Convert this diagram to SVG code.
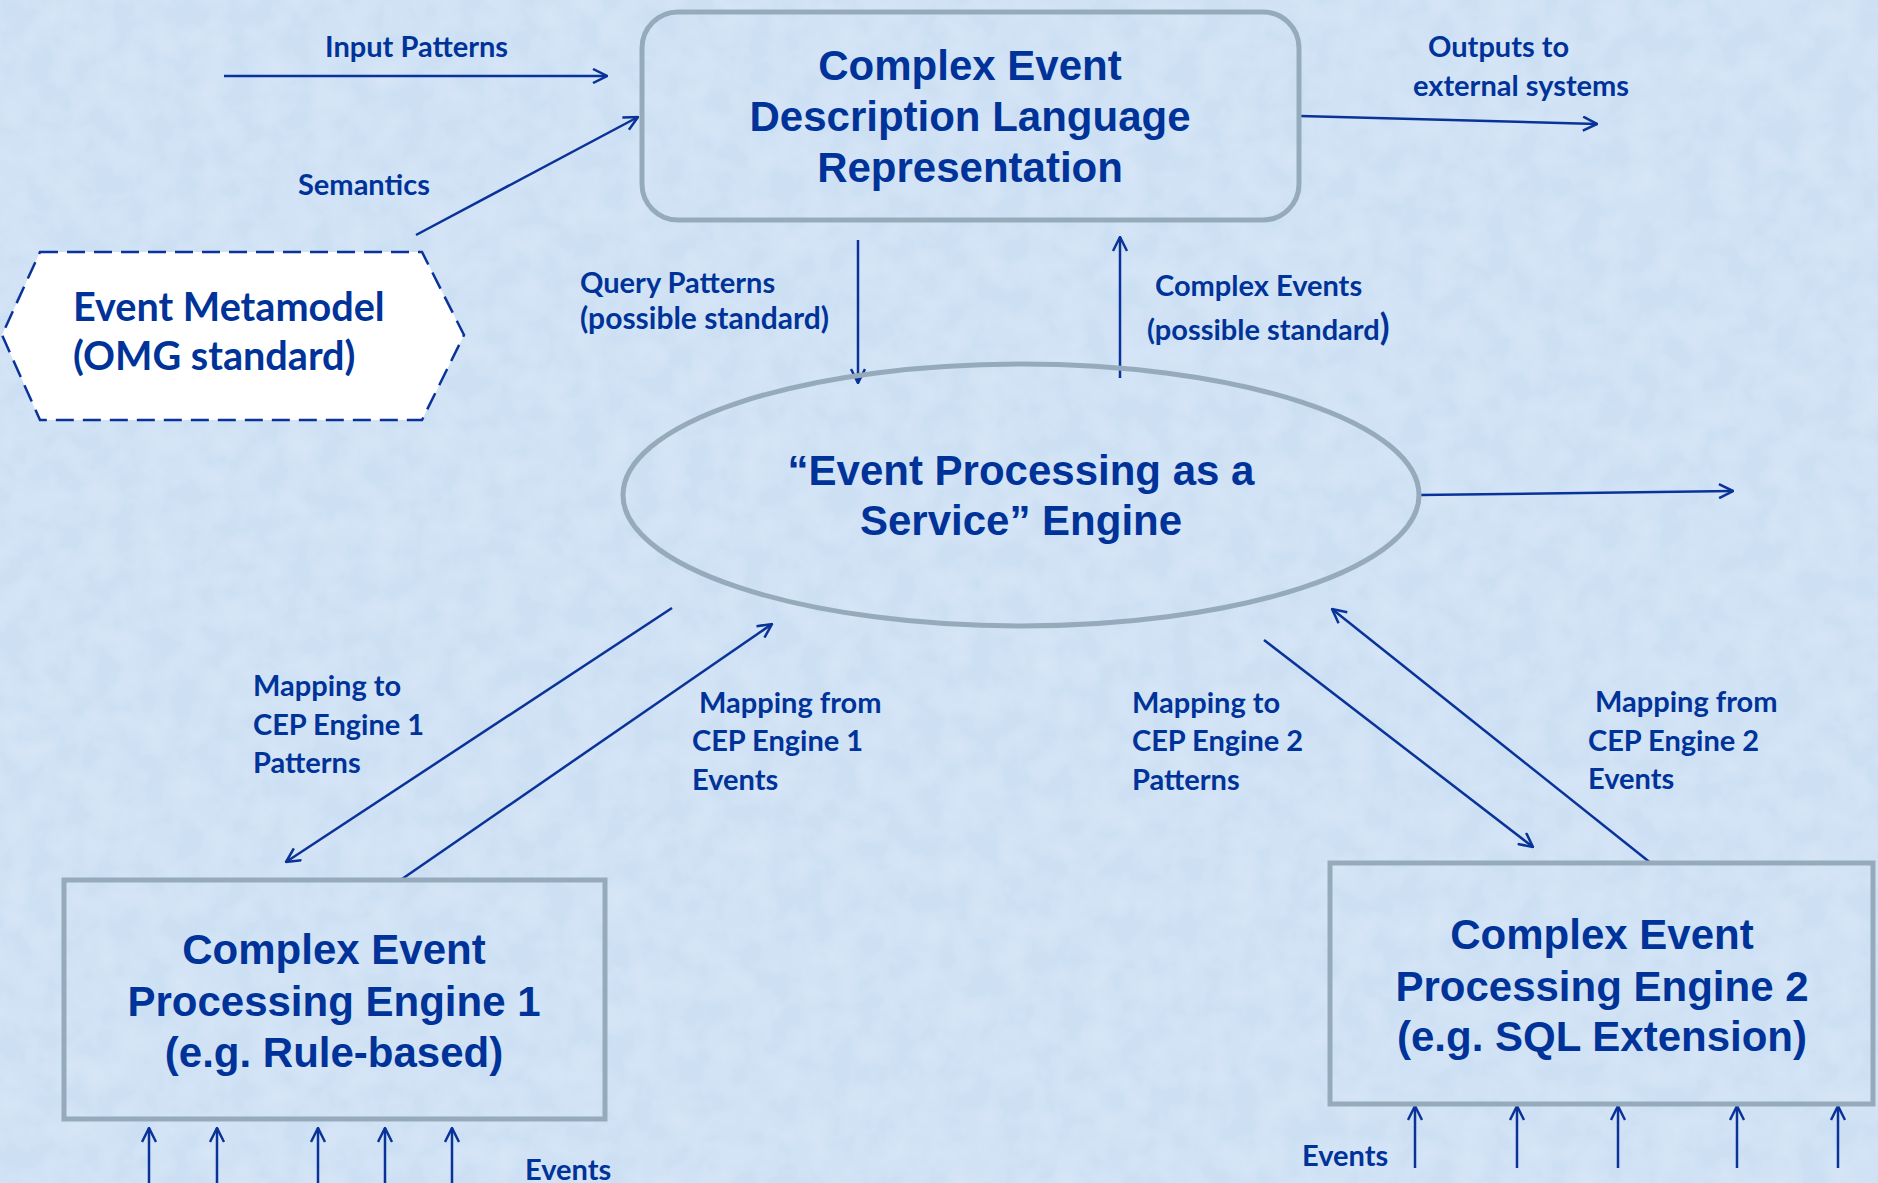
<svg xmlns="http://www.w3.org/2000/svg" width="1878" height="1183" viewBox="0 0 1878 1183">
<defs>
<filter id="tex" x="0" y="0" width="100%" height="100%">
<feTurbulence type="fractalNoise" baseFrequency="0.035" numOctaves="3" seed="4" result="n"/>
<feColorMatrix in="n" type="matrix" values="0 0 0 0 0.72  0 0 0 0 0.82  0 0 0 0 0.95  0 0 0 1.1 -0.35" result="c"/>
<feComposite in="c" in2="SourceGraphic" operator="over"/>
</filter>
<marker id="ah" viewBox="0 0 16 16" refX="15" refY="8" markerWidth="16" markerHeight="16" markerUnits="userSpaceOnUse" orient="auto">
<path d="M1,1 L15,8 L1,15" fill="none" stroke="#0a3399" stroke-width="2.5"/>
</marker>
</defs>
<style>
.bg{fill:#cde0f3}
.conn line{stroke:#0a3399;stroke-width:2.5;fill:none;marker-end:url(#ah)}
.box{fill:none;stroke:#95abbb;stroke-width:5}
.big{font-family:"Liberation Sans",Arial,sans-serif;font-weight:bold;font-size:42px;fill:#003399;text-anchor:middle}
.lbl{font-family:Lato,"Noto Sans",sans-serif;font-weight:bold;font-size:29px;fill:#003399}
.hex{font-family:Lato,"Noto Sans",sans-serif;font-weight:bold;font-size:39.6px;fill:#003399}
</style>
<rect class="bg" x="0" y="0" width="1878" height="1183" filter="url(#tex)"/>

<g id="connectors" class="conn">
<line x1="224" y1="76" x2="607" y2="76"/>
<line x1="416" y1="235" x2="638" y2="117"/>
<line x1="1300" y1="116" x2="1597" y2="124"/>
<line x1="858" y1="240" x2="858" y2="383"/>
<line x1="1120" y1="378" x2="1120" y2="237"/>
<line x1="1419" y1="495" x2="1733" y2="491"/>
<line x1="672" y1="608" x2="286" y2="862"/>
<line x1="402" y1="879" x2="772" y2="624"/>
<line x1="1264" y1="640" x2="1533" y2="847"/>
<line x1="1652" y1="864" x2="1332" y2="609"/>
<line x1="149" y1="1183" x2="149" y2="1128"/>
<line x1="217" y1="1183" x2="217" y2="1128"/>
<line x1="318" y1="1183" x2="318" y2="1128"/>
<line x1="385" y1="1183" x2="385" y2="1128"/>
<line x1="452" y1="1183" x2="452" y2="1128"/>
<line x1="1415" y1="1168" x2="1415" y2="1106"/>
<line x1="1517" y1="1168" x2="1517" y2="1106"/>
<line x1="1618" y1="1168" x2="1618" y2="1106"/>
<line x1="1737" y1="1168" x2="1737" y2="1106"/>
<line x1="1838" y1="1168" x2="1838" y2="1106"/>
</g>

<g id="labels">
<text class="lbl" x="325" y="57">Input Patterns</text>
<text class="lbl" x="298" y="195">Semantics</text>
<text class="lbl" x="1428" y="57">Outputs to</text>
<text class="lbl" x="1413" y="96">external systems</text>
<text class="lbl" x="580" y="293">Query Patterns</text>
<text class="lbl" x="580" y="329" style="font-size:30px">(possible standard)</text>
<text class="lbl" x="1155" y="296">Complex Events</text>
<text class="lbl" x="1147" y="340">(possible standard<tspan style="font-size:36px">)</tspan></text>
<text class="lbl" x="253" y="696">Mapping to</text>
<text class="lbl" x="253" y="735">CEP Engine 1</text>
<text class="lbl" x="253" y="773">Patterns</text>
<text class="lbl" x="699" y="713">Mapping from</text>
<text class="lbl" x="692" y="751">CEP Engine 1</text>
<text class="lbl" x="692" y="790">Events</text>
<text class="lbl" x="1132" y="713">Mapping to</text>
<text class="lbl" x="1132" y="751">CEP Engine 2</text>
<text class="lbl" x="1132" y="790">Patterns</text>
<text class="lbl" x="1595" y="712">Mapping from</text>
<text class="lbl" x="1588" y="751">CEP Engine 2</text>
<text class="lbl" x="1588" y="789">Events</text>
<text class="lbl" x="525" y="1180">Events</text>
<text class="lbl" x="1302" y="1166">Events</text>
</g>

<g id="cedl">
<rect class="box" x="642" y="12" width="657" height="208" rx="36" ry="36"/>
<text class="big" x="970" y="80">Complex Event</text>
<text class="big" x="970" y="131">Description Language</text>
<text class="big" x="970" y="182">Representation</text>
</g>

<g id="metamodel">
<polygon points="40,252 422,252 464,335 422,420 40,420 2,335" fill="#ffffff" stroke="#0a3399" stroke-width="2.5" stroke-dasharray="18,9"/>
<text class="hex" x="73" y="321">Event Metamodel</text>
<text class="hex" x="73" y="370">(OMG standard)</text>
</g>

<g id="epas">
<ellipse class="box" cx="1021" cy="495" rx="398" ry="131"/>
<text class="big" x="1021" y="485">“Event Processing as a</text>
<text class="big" x="1021" y="535">Service” Engine</text>
</g>

<g id="engine1">
<rect class="box" x="64" y="880" width="541" height="239"/>
<text class="big" x="334" y="964">Complex Event</text>
<text class="big" x="334" y="1016">Processing Engine 1</text>
<text class="big" x="334" y="1067">(e.g. Rule-based)</text>
</g>

<g id="engine2">
<rect class="box" x="1330" y="863" width="543" height="241"/>
<text class="big" x="1602" y="949">Complex Event</text>
<text class="big" x="1602" y="1001">Processing Engine 2</text>
<text class="big" x="1602" y="1051">(e.g. SQL Extension)</text>
</g>
</svg>
